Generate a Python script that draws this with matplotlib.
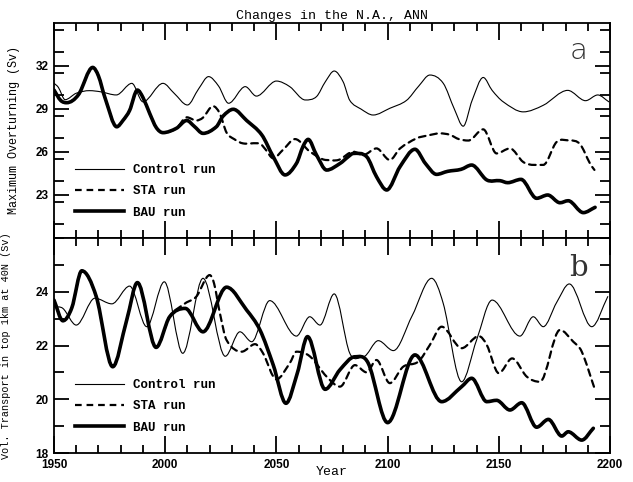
import matplotlib
matplotlib.use("Agg")
import matplotlib.pyplot as plt
import numpy as np
from matplotlib.path import Path
from matplotlib.patches import PathPatch
from matplotlib.lines import Line2D
from matplotlib.ticker import MultipleLocator

# ---- panel a: maximum overturning (Sv) ----
ctl_a_yr = [1950, 1952, 1955, 1960, 1966, 1971, 1978, 1985, 1990, 1999, 2004,
            2010, 2015, 2019.5, 2024, 2028.5, 2036, 2041, 2050, 2056, 2063,
            2068, 2072, 2076, 2080, 2083, 2088, 2093.5, 2101, 2108.5, 2114,
            2119, 2125, 2130, 2134, 2138, 2143, 2147, 2152, 2161, 2170, 2181,
            2189, 2194.5, 2199.5]
ctl_a = [30.8, 30.5, 29.65, 30.1, 30.28, 30.2, 29.98, 30.79, 29.5, 30.79, 30.1,
         29.28, 30.4, 31.26, 30.6, 29.4, 30.56, 29.9, 30.95, 30.56, 29.63,
         29.86, 30.9, 31.65, 30.9, 29.6, 29.0, 28.58, 29.05, 29.6, 30.6,
         31.37, 30.8, 29.0, 27.8, 29.6, 31.2, 30.3, 29.5, 28.8, 29.26, 30.3,
         29.58, 29.98, 29.5]

sta_a_yr = [1950, 1953, 1955.7, 1961, 1967.4, 1970, 1973, 1978.2, 1981, 1984,
            1987.5, 1990, 1993, 1996, 1999, 2005, 2009.7, 2014, 2017, 2021.5,
            2024.5, 2027.6, 2031, 2035, 2042.6, 2045, 2048.6, 2053, 2058.4,
            2065, 2072.6, 2078, 2084.6, 2089, 2095, 2101, 2105.6, 2113, 2118,
            2123.6, 2128, 2132, 2136.3, 2143, 2149, 2155, 2161, 2166, 2170,
            2176, 2182, 2186.5, 2191, 2193]
sta_a = [30.32, 29.6, 29.44, 30.0, 31.9, 31.3, 29.75, 27.76, 28.2, 28.9,
         30.32, 29.8, 28.7, 27.7, 27.35, 27.65, 28.42, 28.2, 28.4, 29.2,
         28.7, 27.35, 26.9, 26.6, 26.58, 26.2, 25.56, 26.16, 26.9,
         26.04, 25.44, 25.45, 26.02, 25.79, 26.25, 25.44, 26.25, 26.95, 27.15,
         27.3, 27.2, 26.9, 26.8, 27.58, 25.9, 26.25, 25.3, 25.1, 25.1,
         26.7, 26.8, 26.55, 25.2, 24.75]

bau_a_yr = [1950, 1953, 1955.7, 1961, 1967.4, 1970, 1973, 1978.2, 1981, 1984,
            1987.5, 1990, 1993, 1996, 1999, 2005, 2009.7, 2013, 2017, 2023,
            2026, 2030.6, 2036.6, 2043.4, 2048.6, 2053.9, 2059, 2062, 2064.3,
            2068, 2072.6, 2078.6, 2082.3, 2084.6, 2090.6, 2095, 2099.6, 2105.6,
            2112.3, 2117, 2122, 2127, 2133, 2137.8, 2144.6, 2150.5, 2154, 2160,
            2167, 2172, 2177.5, 2181.2, 2188, 2193.3]
bau_a = [30.32, 29.6, 29.44, 30.0, 31.9, 31.3, 29.75, 27.76, 28.2, 28.9,
         30.32, 29.8, 28.7, 27.7, 27.35, 27.65, 28.2, 27.8, 27.3, 27.76,
         28.5, 28.98, 28.2, 27.2, 25.67, 24.4, 25.2, 26.4, 26.88,
         25.8, 24.74, 25.2, 25.67, 25.9, 25.67, 24.28, 23.35, 24.98,
         26.19, 25.2, 24.44, 24.65, 24.79, 25.09, 24.05, 24.0, 23.86, 24.09,
         22.77, 23.0, 22.46, 22.6, 21.77, 22.14]

# ---- panel b: volume transport in top 1km at 40N (Sv) ----
ctl_b_yr = [1950, 1954, 1960, 1968.4, 1976, 1984, 1991.7, 1999.6, 2007.9, 2017,
            2027, 2033.6, 2038.9, 2047, 2059, 2065, 2069.6, 2076, 2083, 2089,
            2095.8, 2102.6, 2111, 2119.8, 2125, 2133.3, 2140, 2147, 2159.5,
            2165.5, 2170, 2176, 2181.7, 2191.8, 2199]
ctl_b = [23.44, 23.38, 22.76, 23.76, 23.55, 24.21, 22.7, 24.37, 21.71, 24.5,
         21.6, 22.51, 22.14, 23.67, 22.35, 23.07, 22.76, 23.92, 21.71, 21.58,
         22.18, 21.81, 23.1, 24.5, 23.57, 20.65, 22.2, 23.69, 22.35,
         23.07, 22.7, 23.6, 24.29, 22.7, 23.82]

sta_b_yr = [1950, 1954, 1958, 1962.5, 1969, 1976.4, 1982.7, 1987.5, 1995.9,
            2002, 2009, 2014, 2020, 2022, 2024.6, 2027.6, 2034.4, 2040.4, 2044,
            2050, 2056, 2059, 2065, 2072.6, 2078.6, 2085.3, 2090.6, 2095, 2101,
            2107, 2113.8, 2119, 2124.3, 2133.3, 2141, 2144.6, 2150, 2156,
            2162.6, 2168.5, 2177.5, 2183.5, 2187.3, 2193.3]
sta_b = [23.69, 22.92, 23.4, 24.78, 23.82, 21.21, 22.95, 24.34, 21.93,
         23.07, 23.57, 23.82, 24.62, 24.3, 23.2, 22.2, 21.77, 22.05, 21.71,
         20.74, 21.34, 21.77, 21.6, 20.84, 20.47, 21.27, 21.0, 21.46, 20.6,
         21.21, 21.4, 22.02, 22.7, 21.9, 22.35, 22.02, 20.97, 21.52,
         20.84, 20.65, 22.58, 22.14, 21.77, 20.34]

bau_b_yr = [1950, 1954, 1958, 1962.5, 1969, 1976.4, 1982.7, 1987.5, 1995.9,
            2002, 2009, 2017, 2027.6, 2036.6, 2042.6, 2048.6, 2054.3, 2059.4,
            2064, 2071.9, 2078.6, 2085.3, 2091.3, 2100, 2112.3, 2124.3, 2133.3,
            2137.8, 2144.6, 2149, 2155, 2160.3, 2167, 2172.3, 2178.3, 2181.2,
            2187.3, 2192.5]
bau_b = [23.69, 22.92, 23.4, 24.78, 23.82, 21.21, 22.95, 24.34, 21.93,
         23.07, 23.38, 22.51, 24.17, 23.32, 22.58, 21.27, 19.85, 20.97,
         22.33, 20.37, 21.1, 21.58, 21.34, 19.13, 21.65, 19.91, 20.47,
         20.78, 19.91, 19.96, 19.6, 19.87, 18.96, 19.25, 18.63, 18.79,
         18.48, 18.92]

labels = ["Control run", "STA run", "BAU run"]
mono = "Liberation Mono"
widths = [0.8, 1.6, 2.6]
dashes = ["-", (0, (3, 2.2)), "-"]


def smooth_path(xs, ys):
    """Cubic Bezier path through the read points (flat at local extrema)."""
    x = np.asarray(xs, float); y = np.asarray(ys, float)
    n = len(x)
    m = np.zeros(n)
    for i in range(n):
        if i == 0:
            m[i] = (y[1]-y[0])/(x[1]-x[0])
        elif i == n-1:
            m[i] = (y[-1]-y[-2])/(x[-1]-x[-2])
        else:
            d0 = y[i]-y[i-1]; d1 = y[i+1]-y[i]
            m[i] = 0.0 if d0*d1 <= 0 else (y[i+1]-y[i-1])/(x[i+1]-x[i-1])
    verts = [(x[0], y[0])]; codes = [Path.MOVETO]
    for i in range(n-1):
        h = (x[i+1]-x[i])/3
        verts += [(x[i]+h, y[i]+m[i]*h), (x[i+1]-h, y[i+1]-m[i+1]*h), (x[i+1], y[i+1])]
        codes += [Path.CURVE4]*3
    return Path(verts, codes)


def draw(ax, series):
    handles = []
    for (xs, ys), lw, ls in zip(series, widths, dashes):
        ax.add_patch(PathPatch(smooth_path(xs, ys), fill=False, edgecolor="black",
                               lw=lw, ls=ls, capstyle="round", joinstyle="round"))
        handles.append(Line2D([], [], color="black", lw=lw, ls=ls))
    ax.legend(handles, labels, loc="lower left", bbox_to_anchor=(0.027, 0.06),
              frameon=False, handlelength=3.9, handletextpad=0.75,
              labelspacing=0.75, borderpad=0,
              prop={"family": mono, "weight": "bold", "size": 9})


def style(ax, ylo, yhi, ymin, yticks):
    ax.set_xlim(1950, 2200)
    ax.set_ylim(ylo, yhi)
    ax.xaxis.set_major_locator(MultipleLocator(50))
    ax.xaxis.set_minor_locator(MultipleLocator(10))
    ax.set_yticks(yticks)
    ax.yaxis.set_minor_locator(MultipleLocator(ymin))
    ax.tick_params(which="both", direction="in", top=True, right=True, width=1.3)
    ax.tick_params(axis="x", which="major", length=12, pad=4)
    ax.tick_params(axis="x", which="minor", length=6)
    ax.tick_params(axis="y", which="major", length=11, pad=4)
    ax.tick_params(axis="y", which="minor", length=7)
    for s in ax.spines.values():
        s.set_linewidth(1.3)
    for t in ax.get_yticklabels() + ax.get_xticklabels():
        t.set_fontfamily("Liberation Sans")
        t.set_fontweight("bold")
        t.set_fontsize(8.5)


fig = plt.figure(figsize=(6.33, 4.82), dpi=100)
axa = fig.add_axes([54/633, 1-238/482, 556/633, 215/482])
axb = fig.add_axes([54/633, 1-453/482, 556/633, 215/482])

draw(axa, [(ctl_a_yr, ctl_a), (sta_a_yr, sta_a), (bau_a_yr, bau_a)])
draw(axb, [(ctl_b_yr, ctl_b), (sta_b_yr, sta_b), (bau_b_yr, bau_b)])

style(axa, 20, 35, 1.5, [23, 26, 29, 32])
style(axb, 18, 26, 1, [18, 20, 22, 24])
axa.set_xticklabels([])

axa.set_title("Changes in the N.A., ANN", family=mono, fontsize=9.5, pad=3)
axa.set_ylabel("Maximum Overturning (Sv)", family=mono, fontsize=8.5)
axb.set_ylabel("Vol. Transport in top 1km at 40N (Sv)", family=mono, fontsize=7.3)
axb.set_xlabel("Year", family=mono, fontsize=9.5, labelpad=-3)
axa.yaxis.set_label_coords(-0.062, 0.5)
axb.yaxis.set_label_coords(-0.078, 0.5)

axa.text(0.943, 0.87, "a", transform=axa.transAxes, ha="center", va="center",
         family="DejaVu Sans", fontsize=21, fontweight="light", color="#333333")
axb.text(0.943, 0.86, "b", transform=axb.transAxes, ha="center", va="center",
         family="DejaVu Serif", fontsize=21, color="#333333")

fig.savefig("out.png", dpi=100)
